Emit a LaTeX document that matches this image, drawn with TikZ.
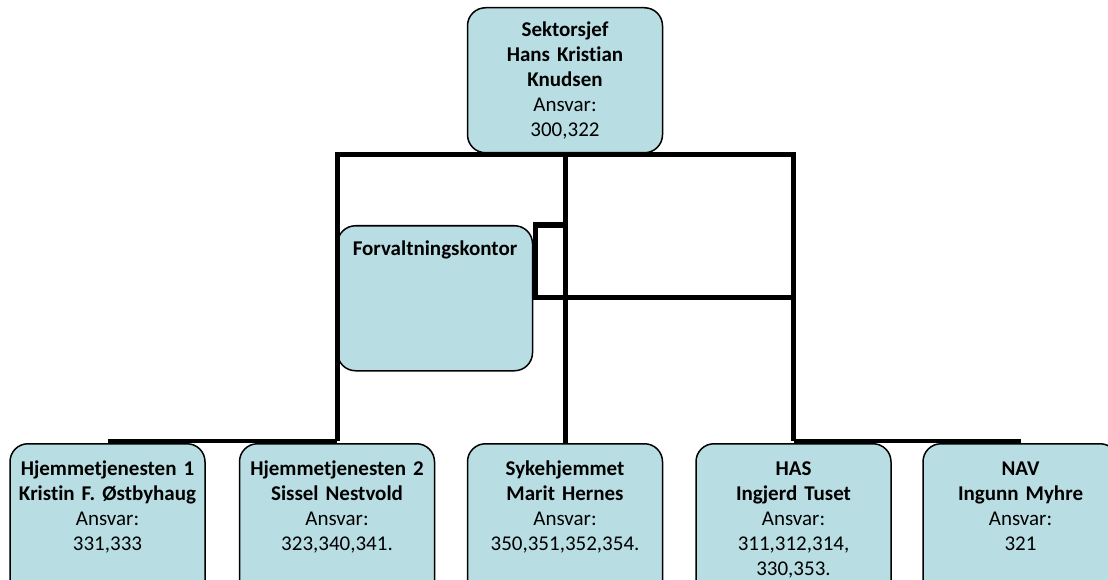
\documentclass[tikz,border=0pt]{standalone}
\usepackage{fontspec}
\setmainfont{Carlito}[Ligatures=NoCommon]
\definecolor{unitblue}{RGB}{184,222,227}
\begin{document}
\begin{tikzpicture}[x=1pt, y=-1pt,
        unit/.style={draw=black, line width=1.5pt, fill=unitblue, rounded corners=18pt,
            anchor=north, text width=185pt, inner xsep=5pt, align=center,
            font=\fontsize{21}{25}\selectfont},
        lowunit/.style={unit, text height=18pt, text depth=130pt, inner ysep=13.5pt},
        orgline/.style={line width=5pt, line join=miter},
        subline/.style={line width=4pt}]
            \useasboundingbox (0,0) rectangle (1108,580);
            \clip (0,0) rectangle (1108,580);

            \node[unit, minimum height=145pt] (chief) at (565,7)
                {\textbf{Sektorsjef}\\\textbf{Hans Kristian}\\\textbf{Knudsen}\\Ansvar:\\300,322};
            \node[unit, text height=18pt, text depth=104pt, inner ysep=11.5pt] (forv) at (435,225)
                {\textbf{Forvaltningskontor}};

            \node[lowunit] (hj1) at (107.5,443)
                {\textbf{Hjemmetjenesten 1}\\\textbf{Kristin F. Østbyhaug}\\Ansvar:\\331,333};
            \node[lowunit] (hj2) at (337,443)
                {\textbf{Hjemmetjenesten 2}\\\textbf{Sissel Nestvold}\\Ansvar:\\323,340,341.};
            \node[lowunit] (syke) at (565,443)
                {\textbf{Sykehjemmet}\\\textbf{Marit Hernes}\\Ansvar:\\350,351,352,354.};
            \node[lowunit] (has) at (793.5,443)
                {\textbf{HAS}\\\textbf{Ingjerd Tuset}\\Ansvar:\\311,312,314,\\330,353.};
            \node[lowunit] (nav) at (1020.5,443)
                {\textbf{NAV}\\\textbf{Ingunn Myhre}\\Ansvar:\\321};

            \coordinate (forvjoin) at (535,297);

            \draw[orgline] (chief.south) -- (syke.north);
            \draw[orgline] ([yshift=2pt]hj2.north) -- ([yshift=-1.5pt]hj2.north |- chief.south)
                -- ([yshift=-1.5pt]has.north |- chief.south) -- ([yshift=2pt]has.north);
            \draw[orgline] (chief.south |- forv.north east) -| (forvjoin) -- (has.north |- forvjoin);

            \draw[subline] ([yshift=2pt]hj1.north) -- ([yshift=2pt]hj2.north);
            \draw[subline] ([yshift=2pt]has.north) -- ([yshift=2pt]nav.north);
        \end{tikzpicture}
\end{document}
